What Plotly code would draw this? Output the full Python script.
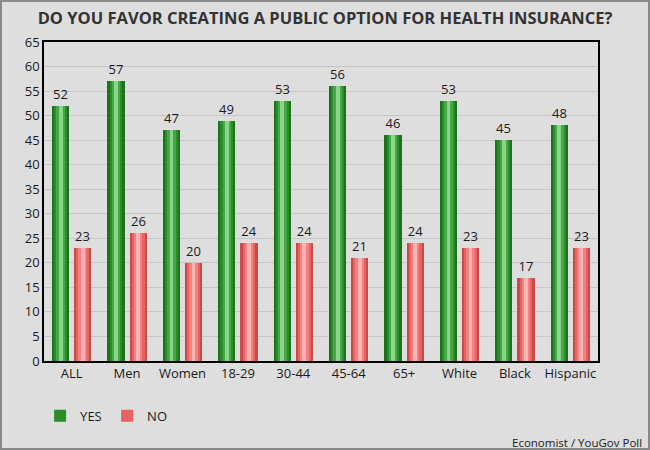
import plotly.graph_objects as go

categories = ["ALL", "Men", "Women", "18-29", "30-44", "45-64", "65+", "White", "Black", "Hispanic"]
yes_values = [52, 57, 47, 49, 53, 56, 46, 53, 45, 48]
no_values = [23, 26, 20, 24, 24, 21, 24, 23, 17, 23]

FONT = "Open Sans"
BAR_W = 0.31

# fake the cylinder shading by stacking narrower bars on top of each other
green_layers = [(1.0, "#1b731b"), (0.75, "#2a8c2a"), (0.5, "#45a745"), (0.22, "#8ad58a")]
red_layers = [(1.0, "#c94a4a"), (0.75, "#e86262"), (0.5, "#f58080"), (0.22, "#ffb4b4")]

fig = go.Figure()


def add_series(name, values, center, layers):
    for i, (frac, color) in enumerate(layers):
        w = BAR_W * frac
        fig.add_trace(go.Bar(
            x=categories, y=values, name=name,
            width=w, offset=center - w / 2,
            marker=dict(color=color, line=dict(width=0)),
            text=values if i == 0 else None,
            textposition="outside" if i == 0 else "none",
            textfont=dict(family=FONT, size=13, color="#1a1a1a"),
            cliponaxis=False,
            showlegend=(i == 1),
            hoverinfo="x+y+name",
        ))


add_series("YES", yes_values, -0.2, green_layers)
add_series("NO", no_values, 0.2, red_layers)

fig.update_layout(
    width=650, height=450,
    barmode="overlay",
    paper_bgcolor="#dedede",
    plot_bgcolor="#dedede",
    margin=dict(l=44, r=52, t=42, b=89),
    font=dict(family=FONT, size=13, color="#1a1a1a"),
    title=dict(
        text="<b>DO YOU FAVOR CREATING A PUBLIC OPTION FOR HEALTH INSURANCE?</b>",
        x=0.5, xanchor="center", y=0.96, yanchor="middle",
        font=dict(family=FONT, size=16.5, color="#333"),
    ),
    legend=dict(
        orientation="h", x=-0.007, y=-0.172, xanchor="left", yanchor="middle",
        bgcolor="rgba(0,0,0,0)", font=dict(size=13, color="#1a1a1a"),
        itemwidth=30, entrywidth=22, traceorder="normal",
    ),
    bargap=0,
    annotations=[dict(
        text="Economist / YouGov Poll", xref="paper", yref="paper",
        x=1.083, y=-0.255, xanchor="right", yanchor="middle",
        showarrow=False, font=dict(family=FONT, size=11.5, color="#1a1a1a"),
    )],
    shapes=[dict(
        type="rect", xref="paper", yref="paper",
        x0=-43 / 554, x1=1 + 51 / 554, y0=-88 / 319, y1=1 + 41 / 319,
        line=dict(color="#8a8a8a", width=2), fillcolor="rgba(0,0,0,0)",
    )],
)

fig.update_yaxes(
    range=[0, 65], dtick=5, showgrid=True, gridcolor="#c6c6c6", gridwidth=1,
    showline=True, linecolor="black", linewidth=1.5, mirror=True,
    ticks="", zeroline=False, tickfont=dict(size=13, color="#1a1a1a"),
)
fig.update_xaxes(
    showline=True, linecolor="black", linewidth=1.5, mirror=True,
    ticks="", tickfont=dict(size=13, color="#1a1a1a"),
)

fig.write_html("out.html", config={"displayModeBar": False},
               post_script="document.body.style.margin='0';")
